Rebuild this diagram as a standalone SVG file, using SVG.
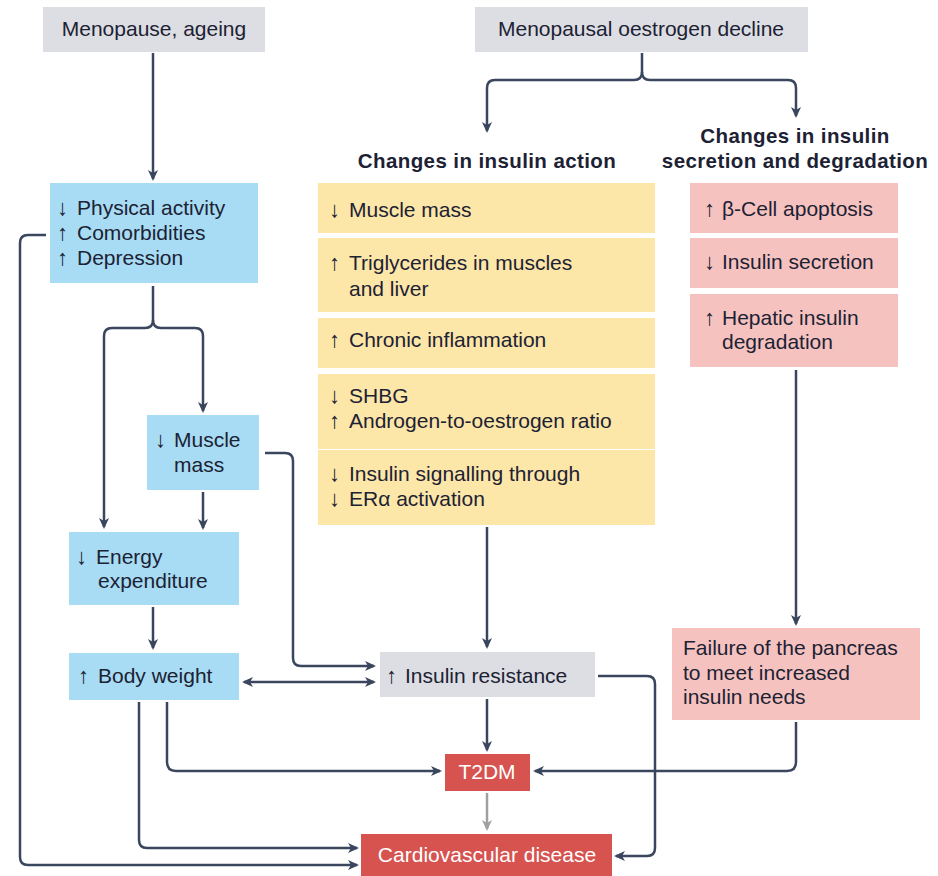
<svg xmlns="http://www.w3.org/2000/svg" width="938" height="876" viewBox="0 0 938 876">
<defs>
<style>
text{font-family:"Liberation Sans",Arial,sans-serif;font-size:21px;fill:#1c2233}
.h{font-weight:bold;font-size:20.5px;letter-spacing:0.4px}
.ar{font-size:22px;font-family:"Liberation Sans",Arial,sans-serif}
.w{fill:#ffffff}
.c{text-anchor:middle}
.gray{fill:#dcdee3}
.blue{fill:#a7dcf4}
.yel{fill:#fce6a8}
.pink{fill:#f6c2c0}
.red{fill:#d65350}
.ln{fill:none;stroke:#3a465e;stroke-width:2.5}
.lg{fill:none;stroke:#a0a0a0;stroke-width:2.5}
</style>
<marker id="a" markerWidth="11" markerHeight="10" refX="9" refY="5" orient="auto" markerUnits="userSpaceOnUse" viewBox="0 0 11 10">
<path d="M0,0 L11,5 L0,10 L3,5 z" fill="#3a465e"/>
</marker>
<marker id="ag" markerWidth="11" markerHeight="10" refX="9" refY="5" orient="auto" markerUnits="userSpaceOnUse" viewBox="0 0 11 10">
<path d="M0,0 L11,5 L0,10 L3,5 z" fill="#a0a0a0"/>
</marker>
<marker id="as" markerWidth="11" markerHeight="10" refX="2" refY="5" orient="auto" markerUnits="userSpaceOnUse" viewBox="0 0 11 10">
<path d="M11,0 L0,5 L11,10 L8,5 z" fill="#3a465e"/>
</marker>
</defs>

<g id="n-menopause">
<rect class="gray" x="43" y="7" width="222" height="45"/>
<text class="c" x="154" y="36">Menopause, ageing</text>
</g>
<g id="n-oestrogen">
<rect class="gray" x="475" y="7" width="333" height="45"/>
<text class="c" x="641" y="36">Menopausal oestrogen decline</text>
</g>
<g id="n-head-action">
<text class="h c" x="487" y="168">Changes in insulin action</text>
</g>
<g id="n-head-secretion">
<text class="h c" x="795" y="143">Changes in insulin</text>
<text class="h c" x="795" y="168">secretion and degradation</text>
</g>

<g id="n-physical">
<rect class="blue" x="50" y="183" width="208" height="100"/>
<text><tspan class="ar" x="57" y="215">↓</tspan><tspan x="77" y="215">Physical activity</tspan></text>
<text><tspan class="ar" x="57" y="240">↑</tspan><tspan x="77" y="240">Comorbidities</tspan></text>
<text><tspan class="ar" x="57" y="265">↑</tspan><tspan x="77" y="265">Depression</tspan></text>
</g>
<g id="n-musclemass-left">
<rect class="blue" x="147" y="415" width="112" height="75"/>
<text><tspan class="ar" x="155" y="447">↓</tspan><tspan x="174" y="447">Muscle</tspan></text>
<text x="174" y="472">mass</text>
</g>
<g id="n-energy">
<rect class="blue" x="69" y="532" width="170" height="73"/>
<text><tspan class="ar" x="76" y="564">↓</tspan><tspan x="96" y="564">Energy</tspan></text>
<text x="98" y="588">expenditure</text>
</g>
<g id="n-bodyweight">
<rect class="blue" x="69" y="653" width="170" height="47"/>
<text><tspan class="ar" x="78" y="683">↑</tspan><tspan x="98" y="683">Body weight</tspan></text>
</g>

<g id="n-act-muscle">
<rect class="yel" x="318" y="183" width="337" height="50"/>
<text><tspan class="ar" x="329" y="217">↓</tspan><tspan x="349" y="217">Muscle mass</tspan></text>
</g>
<g id="n-act-trig">
<rect class="yel" x="318" y="238" width="337" height="74"/>
<text><tspan class="ar" x="329" y="270">↑</tspan><tspan x="349" y="270">Triglycerides in muscles</tspan></text>
<text x="349" y="296">and liver</text>
</g>
<g id="n-act-inflam">
<rect class="yel" x="318" y="318" width="337" height="50"/>
<text><tspan class="ar" x="329" y="347">↑</tspan><tspan x="349" y="347">Chronic inflammation</tspan></text>
</g>
<g id="n-act-shbg">
<rect class="yel" x="318" y="374" width="337" height="75"/>
<text><tspan class="ar" x="329" y="403">↓</tspan><tspan x="349" y="403">SHBG</tspan></text>
<text><tspan class="ar" x="329" y="428">↑</tspan><tspan x="349" y="428">Androgen-to-oestrogen ratio</tspan></text>
</g>
<g id="n-act-signal">
<rect class="yel" x="318" y="450" width="337" height="75"/>
<text><tspan class="ar" x="329" y="481">↓</tspan><tspan x="349" y="481">Insulin signalling through</tspan></text>
<text><tspan class="ar" x="329" y="506">↓</tspan><tspan x="349" y="506">ERα activation</tspan></text>
</g>

<g id="n-beta">
<rect class="pink" x="690" y="183" width="208" height="50"/>
<text><tspan class="ar" x="704" y="216">↑</tspan><tspan x="722" y="216">β-Cell apoptosis</tspan></text>
</g>
<g id="n-secretion">
<rect class="pink" x="690" y="238" width="208" height="50"/>
<text><tspan class="ar" x="704" y="269">↓</tspan><tspan x="722" y="269">Insulin secretion</tspan></text>
</g>
<g id="n-hepatic">
<rect class="pink" x="690" y="294" width="208" height="73"/>
<text><tspan class="ar" x="704" y="325">↑</tspan><tspan x="722" y="325">Hepatic insulin</tspan></text>
<text x="722" y="349">degradation</text>
</g>
<g id="n-failure">
<rect class="pink" x="672" y="628" width="248" height="92"/>
<text x="683" y="655">Failure of the pancreas</text>
<text x="683" y="680">to meet increased</text>
<text x="683" y="704">insulin needs</text>
</g>

<g id="n-ir">
<rect class="gray" x="380" y="652" width="215" height="45"/>
<text><tspan class="ar" x="386" y="683">↑</tspan><tspan x="405" y="683">Insulin resistance</tspan></text>
</g>
<g id="n-t2dm">
<rect class="red" x="445" y="754" width="85" height="37"/>
<text class="w c" x="487" y="779">T2DM</text>
</g>
<g id="n-cvd">
<rect class="red" x="361" y="834" width="251" height="42"/>
<text class="w c" x="487" y="862">Cardiovascular disease</text>
</g>

<g id="connectors">
<path class="ln" d="M153,53 V179" marker-end="url(#a)"/>
<path class="ln" d="M642,53 V72 Q642,80 634,80 H495 Q487,80 487,88 V131" marker-end="url(#a)"/>
<path class="ln" d="M642,72 Q642,80 650,80 H788 Q796,80 796,88 V116" marker-end="url(#a)"/>
<path class="ln" d="M796,370 V624" marker-end="url(#a)"/>
<path class="ln" d="M796,722 V762 Q796,771 787,771 H535" marker-end="url(#a)"/>
<path class="ln" d="M487,527 V647" marker-end="url(#a)"/>
<path class="ln" d="M487,699 V750" marker-end="url(#a)"/>
<path class="lg" d="M487,793 V829" marker-end="url(#ag)"/>
<path class="ln" d="M598,676 H647 Q655,676 655,684 V848 Q655,856 647,856 H616" marker-end="url(#a)"/>
<path class="ln" d="M153,286 V320 Q153,328 145,328 H112 Q104,328 104,336 V527" marker-end="url(#a)"/>
<path class="ln" d="M153,320 Q153,328 161,328 H195 Q203,328 203,336 V411" marker-end="url(#a)"/>
<path class="ln" d="M203,492 V528" marker-end="url(#a)"/>
<path class="ln" d="M265,453 H285 Q293,453 293,461 V658 Q293,666 301,666 H374" marker-end="url(#a)"/>
<path class="ln" d="M153,607 V648" marker-end="url(#a)"/>
<path class="ln" d="M244,682 H374" marker-start="url(#as)" marker-end="url(#a)"/>
<path class="ln" d="M167,702 V762 Q167,771 176,771 H440" marker-end="url(#a)"/>
<path class="ln" d="M139,702 V840 Q139,848 147,848 H357" marker-end="url(#a)"/>
<path class="ln" d="M46,235 H28 Q20,235 20,243 V857 Q20,865 28,865 H357" marker-end="url(#a)"/>
</g>
</svg>
